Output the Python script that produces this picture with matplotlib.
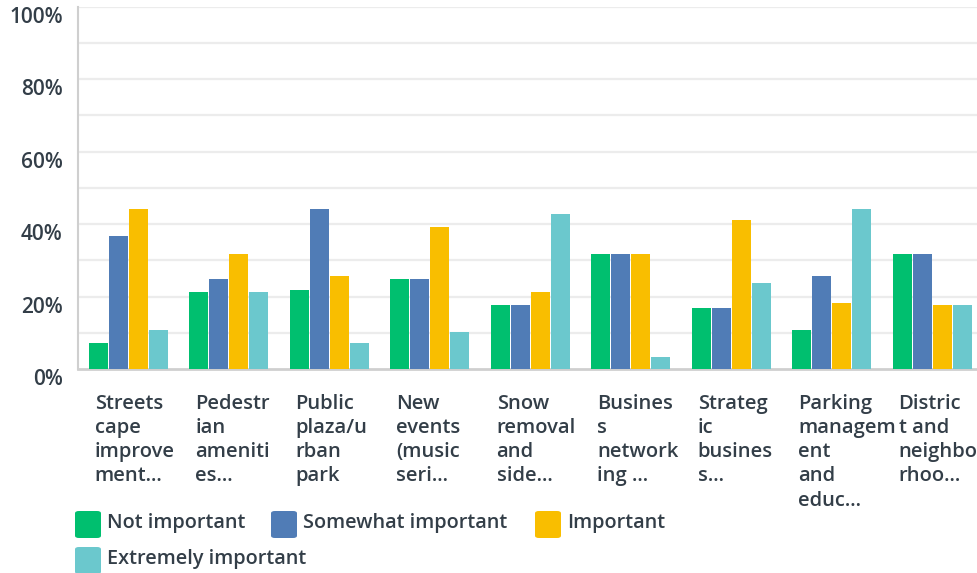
import matplotlib
matplotlib.use("Agg")
import matplotlib.pyplot as plt
from matplotlib.patches import FancyBboxPatch
from matplotlib.transforms import ScaledTranslation
import numpy as np

categories = [
    "Streets\ncape\nimprove\nment...",
    "Pedestr\nian\nameniti\nes...",
    "Public\nplaza/u\nrban\npark",
    "New\nevents\n(music\nseri...",
    "Snow\nremoval\nand\nside...",
    "Busines\ns\nnetwork\ning ...",
    "Strateg\nic\nbusines\ns...",
    "Parking\nmanagem\nent\nand\neduc...",
    "Distric\nt and\nneighbo\nrhoo...",
]
series_names = ["Not important", "Somewhat important", "Important", "Extremely important"]
not_important = [7.2, 21.3, 21.8, 24.8, 17.7, 31.7, 16.8, 10.8, 31.7]
somewhat_important = [36.7, 24.8, 44.2, 24.8, 17.7, 31.7, 16.8, 25.7, 31.7]
important = [44.2, 31.7, 25.7, 39.2, 21.3, 31.7, 41.1, 18.2, 17.7]
extremely_important = [10.8, 21.3, 7.2, 10.2, 42.8, 3.3, 23.7, 44.2, 17.7]
yticks = [0, 20, 40, 60, 80, 100]
ytick_labels = ["0%", "20%", "40%", "60%", "80%", "100%"]

colors = ["#00bf6f", "#507cb6", "#f9be00", "#6bc8cd"]
text_color = "#333e48"
FONT = ["Open Sans", "DejaVu Sans"]
WEIGHT = "semibold"

W, H = 977, 573
fig = plt.figure(figsize=(W / 100, H / 100), dpi=100)
group_px = 100.5
ax = fig.add_axes([78 / W, 1 - 369 / H, (9 * group_px) / W, (369 - 6.7) / H])

data = [not_important, somewhat_important, important, extremely_important]
x = np.arange(len(categories))
offsets = [-0.3, -0.1, 0.1, 0.3]
for vals, off, c in zip(data, offsets, colors):
    ax.bar(x + off, vals, width=0.19, color=c, zorder=3)

ax.set_xlim(-0.5, len(categories) - 0.5)
ax.set_ylim(0, 100)
for y in range(10, 101, 10):
    ax.axhline(y, color="#ececec", lw=1.6, zorder=1)
ax.set_yticks(yticks)
ax.set_yticklabels(ytick_labels, fontsize=15, color=text_color, fontweight=WEIGHT, family=FONT)
ax.tick_params(axis="y", length=0, pad=11)
off = ScaledTranslation(0, -8 / 100, fig.dpi_scale_trans)
for lab in ax.get_yticklabels():
    lab.set_transform(lab.get_transform() + off)
ax.set_xticks([])
for s in ["top", "right"]:
    ax.spines[s].set_visible(False)
ax.spines["left"].set_color("#cfcfcf")
ax.spines["left"].set_linewidth(1.5)
ax.spines["bottom"].set_color("#cfcfcf")
ax.spines["bottom"].set_linewidth(2)

# category labels below, left aligned at group start
for i, lab in enumerate(categories):
    xd = i - 0.335
    ax.text(xd, -6.8, lab, transform=ax.transData, ha="left", va="top",
            fontsize=14.5, color=text_color, fontweight=WEIGHT, family=FONT,
            linespacing=1.285, clip_on=False)

# legend
legend_pos = [(75, 511), (271, 511), (535, 511), (75, 547)]
for (lx, ly), name, c in zip(legend_pos, series_names, colors):
    box = FancyBboxPatch(((lx) / W, 1 - (ly + 27) / H), 26 / W, 27 / H,
                         boxstyle="round,pad=0,rounding_size=0.004",
                         transform=fig.transFigure, facecolor=c, edgecolor="none")
    fig.patches.append(box)
    fig.text((lx + 32) / W, 1 - (ly + 12) / H, name, ha="left", va="center",
             fontsize=14.3, color=text_color, fontweight=WEIGHT, family=FONT)

fig.savefig("out.png", dpi=100)
